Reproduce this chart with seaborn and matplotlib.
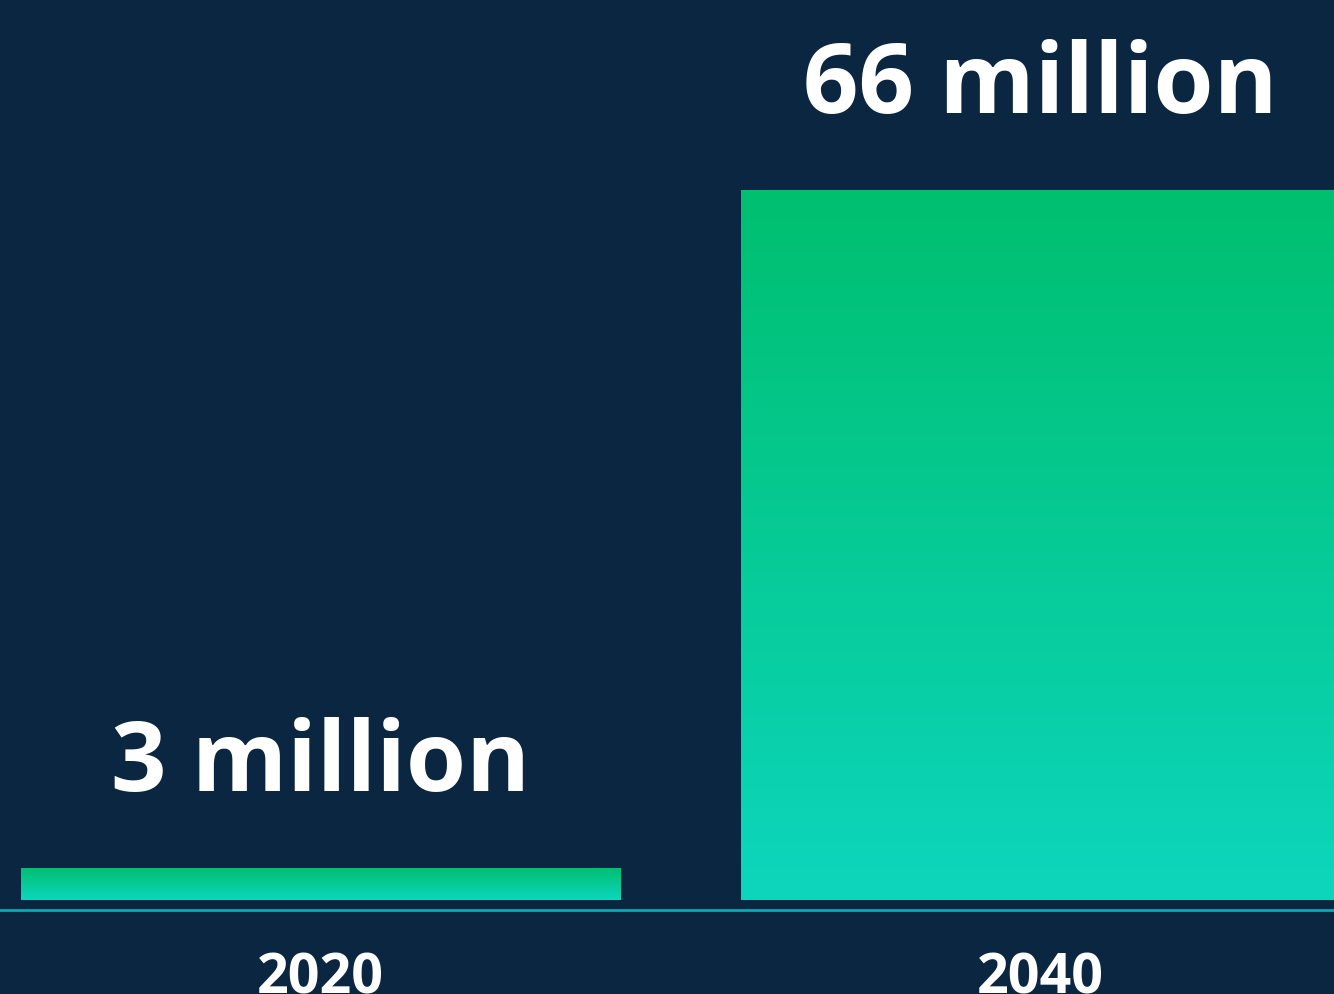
import numpy as np
import matplotlib
matplotlib.use("Agg")
import matplotlib.pyplot as plt
import seaborn as sns
from matplotlib.colors import LinearSegmentedColormap

# data
years = ["2020", "2040"]
values = [3, 66]
labels = ["3 million", "66 million"]

bg = "#0b2640"
sns.set_theme(style="white")
plt.rcParams["font.family"] = ["Open Sans", "DejaVu Sans"]

fig = plt.figure(figsize=(13.34, 9.95), dpi=100, facecolor=bg)
ax = fig.add_axes([0, 0.0844, 1, 0.9156])
ax.set_facecolor(bg)

sns.barplot(x=years, y=values, ax=ax, color="#00bf6f", width=0.832,
            saturation=1, edgecolor="none")

# vertical green -> teal gradient inside each bar
cmap = LinearSegmentedColormap.from_list("g", ["#0dd6bd", "#00bf6f"])
grad = np.linspace(0, 1, 256).reshape(-1, 1)
for p in ax.patches:
    x0, y0 = p.get_x(), p.get_y()
    w, h = p.get_width(), p.get_height()
    im = ax.imshow(grad, cmap=cmap, aspect="auto", origin="lower",
                   extent=[x0, x0 + w, y0, y0 + h], zorder=2)
    im.set_clip_path(p)
    p.set_facecolor("none")

for i, (v, lab) in enumerate(zip(values, labels)):
    ax.annotate(lab, xy=(i, v), xytext=(0, 56), textcoords="offset points",
                ha="center", va="baseline", color="white", fontsize=70,
                fontweight="bold")

ax.set_xlim(-0.445, 1.4076)
ax.set_ylim(-0.93, 83.7)
ax.set_yticks([])
ax.set_xlabel("")
ax.set_ylabel("")
ax.tick_params(axis="x", length=0, pad=29, labelsize=40, labelcolor="white")
for t in ax.get_xticklabels():
    t.set_fontweight("bold")
for s in ["top", "left", "right"]:
    ax.spines[s].set_visible(False)
ax.spines["bottom"].set_color("#0aa8b0")
ax.spines["bottom"].set_linewidth(2)

fig.savefig("out.png", dpi=100, facecolor=bg)
